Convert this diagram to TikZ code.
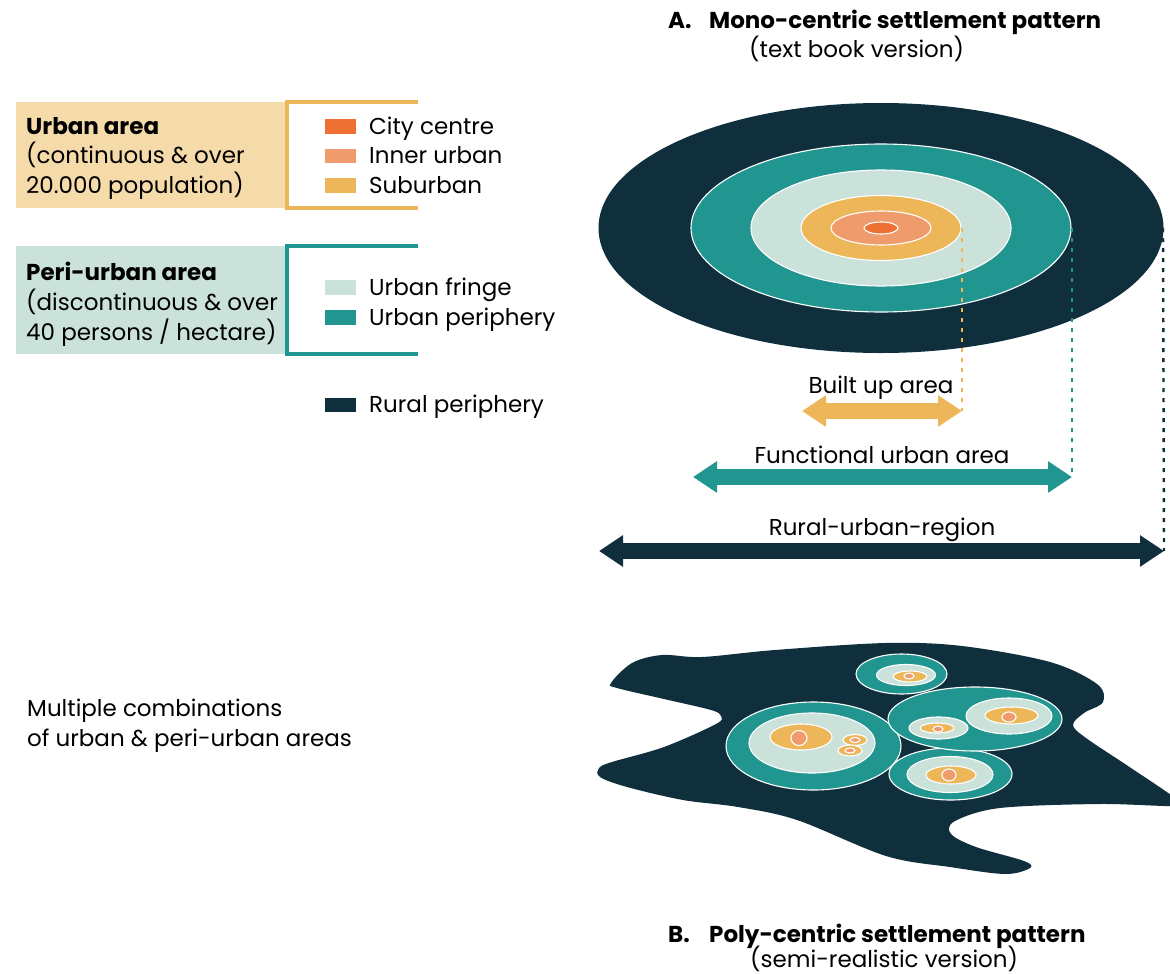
\documentclass[tikz,border=0pt]{standalone}
\usepackage{fontspec}
\setmainfont{Poppins}
\usetikzlibrary{arrows.meta}

% palette
\definecolor{ruraldark}{HTML}{0F2F3C}
\definecolor{periteal}{HTML}{21958F}
\definecolor{fringe}{HTML}{CAE2DA}
\definecolor{suburb}{HTML}{EDB658}
\definecolor{innerurb}{HTML}{F09B6B}
\definecolor{citycol}{HTML}{EE7032}
\definecolor{urbanbg}{HTML}{F5DAAA}
\definecolor{peribg}{HTML}{CAE2DA}

\begin{document}
\begin{tikzpicture}[x=1bp, y=-1bp,
  font=\fontsize{23bp}{27bp}\selectfont,
  txt/.style={anchor=base west, inner sep=0pt, text=black},
  ctxt/.style={anchor=base, inner sep=0pt, text=black},
  boldtxt/.style={txt, font=\fontsize{23bp}{27bp}\selectfont\bfseries},
  swatch/.style={minimum width=32bp, minimum height=15.5bp, inner sep=0pt, draw=white, line width=0.6bp},
  areabox/.style={anchor=north west, minimum width=269bp, minimum height=106bp, inner sep=0pt},
  bracket/.style={line width=4bp},
  ring/.style={draw=white, line width=1.1bp},
  dimarrow/.style={line width=16bp,
    {Triangle[length=24bp,width=30bp]}-{Triangle[length=24bp,width=30bp]}},
  guide/.style={line width=2.4bp, dash pattern=on 4bp off 6bp},
]
\useasboundingbox (0,0) rectangle (1170,974);

% ---------------- titles ----------------
\node[boldtxt] (tA-tag) at (668,28) {A.};
\node[boldtxt] (tA) at (709,28) {Mono-centric settlement pattern};
\node[txt] (tA-sub) at (749,57) {(text book version)};

\node[boldtxt] (tB-tag) at (668,942) {B.};
\node[boldtxt] (tB) at (709,942) {Poly-centric settlement pattern};
\node[txt] (tB-sub) at (750,967) {(semi-realistic version)};

% ---------------- legend: urban area ----------------
\node[areabox, fill=urbanbg] (urbanbox) at (16,102) {};
\draw[bracket, suburb] (418,102) -- (287,102) -- (287,208) -- (418,208);
\node[boldtxt] (u1) at (26,134) {Urban area};
\node[txt] (u2) at (26,163.5) {(continuous \& over};
\node[txt] (u3) at (26,193) {20.000 population)};

\node[swatch, fill=citycol] (sw-city) at (340,126.5) {};
\node[swatch, fill=innerurb] (sw-inner) at (340,156) {};
\node[swatch, fill=suburb] (sw-sub) at (340,185.5) {};
\node[txt] (l-city) at (369,134) {City centre};
\node[txt] (l-inner) at (369,163.5) {Inner urban};
\node[txt] (l-sub) at (369,193) {Suburban};

% ---------------- legend: peri-urban area ----------------
\node[areabox, fill=peribg, minimum height=108bp] (peribox) at (16,246) {};
\draw[bracket, periteal] (418,246) -- (287,246) -- (287,354) -- (418,354);
\node[boldtxt] (p1) at (26,280) {Peri-urban area};
\node[txt] (p2) at (26,310) {(discontinuous \& over};
\node[txt] (p3) at (26,340) {40 persons / hectare)};

\node[swatch, fill=fringe] (sw-fringe) at (340,287.5) {};
\node[swatch, fill=periteal] (sw-peri) at (340,317.5) {};
\node[txt] (l-fringe) at (369,295) {Urban fringe};
\node[txt] (l-peri) at (369,325) {Urban periphery};

\node[swatch, fill=ruraldark] (sw-rural) at (340,405) {};
\node[txt] (l-rural) at (369,412.5) {Rural periphery};

% ---------------- mono-centric rings ----------------
\fill[ruraldark] (881,228) ellipse [x radius=282.5bp, y radius=125bp];
\filldraw[ring, fill=periteal] (881,228) ellipse [x radius=190bp, y radius=84bp];
\filldraw[ring, fill=fringe] (881,228) ellipse [x radius=130bp, y radius=58bp];
\filldraw[ring, fill=suburb] (881,228) ellipse [x radius=80bp, y radius=32.5bp];
\filldraw[ring, fill=innerurb] (881,228) ellipse [x radius=50bp, y radius=17bp];
\filldraw[ring, fill=citycol] (881,228) ellipse [x radius=17bp, y radius=6bp];

% edges of the zones
\coordinate (edge-built) at (962,228);
\coordinate (edge-func) at (1072,228);
\coordinate (edge-rural) at (1163,228);

% ---------------- extent arrows ----------------
\coordinate (bu-l) at (802,411);
\coordinate (bu-r) at (962,411);
\coordinate (fu-l) at (693,477);
\coordinate (fu-r) at (1072,477);
\coordinate (ru-l) at (599,551);
\coordinate (ru-r) at (1164,551);

\draw[guide, suburb] (edge-built) -- (bu-r);
\draw[guide, periteal] (edge-func) -- (fu-r);
\draw[guide, ruraldark] (edge-rural) -- (ru-r);

\draw[dimarrow, suburb] (bu-l) -- (bu-r);
\draw[dimarrow, periteal] (fu-l) -- (fu-r);
\draw[dimarrow, ruraldark] (ru-l) -- (ru-r);

\node[ctxt] (lab-bu) at (881,393) {Built up area};
\node[ctxt] (lab-fu) at (882,463) {Functional urban area};
\node[ctxt] (lab-ru) at (882,535) {Rural-urban-region};

% ---------------- poly-centric region ----------------
\node[txt] (m1) at (27,716) {Multiple combinations};
\node[txt] (m2) at (27,746) {of urban \& peri-urban areas};

\fill[ruraldark] plot[smooth cycle, tension=0.55] coordinates {
  (611,683) (632,663) (662,655) (702,657) (775,650) (886,643) (962,646)
  (1050,662) (1097,684) (1103,702) (1084,713) (1073,725) (1086,738)
  (1128,766) (1175,798) (1178,806) (1100,804) (1000,808) (955,821)
  (951,834) (976,847) (1024,861) (1030,868) (1005,874) (950,867)
  (886,856) (797,820) (738,807) (683,800) (627,787) (600,777)
  (599,768) (612,762) (664,747) (716,724) (721,716) (711,710)
  (664,699) (617,688)};

% left town cluster
\filldraw[ring, fill=periteal] (813.5,746) ellipse [x radius=87.5bp, y radius=44bp];
\filldraw[ring, fill=fringe] (812,743) ellipse [x radius=63bp, y radius=30bp];
\filldraw[ring, fill=suburb] (801,737) ellipse [x radius=31bp, y radius=13bp];
\filldraw[ring, fill=innerurb] (799,738) ellipse [x radius=8bp, y radius=7.5bp];
\filldraw[ring, fill=suburb] (855,740) ellipse [x radius=12bp, y radius=5.5bp];
\filldraw[ring, fill=innerurb] (855,740) ellipse [x radius=5bp, y radius=2.5bp];
\filldraw[ring, fill=suburb] (850,750.5) ellipse [x radius=12bp, y radius=5.5bp];
\filldraw[ring, fill=innerurb] (850,750.5) ellipse [x radius=5bp, y radius=2.5bp];

% bottom town
\filldraw[ring, fill=periteal] (950.5,774) ellipse [x radius=61.5bp, y radius=26bp];
\filldraw[ring, fill=fringe] (950,774.5) ellipse [x radius=43bp, y radius=18bp];
\filldraw[ring, fill=suburb] (951,775) ellipse [x radius=25bp, y radius=9bp];
\filldraw[ring, fill=innerurb] (949,775) ellipse [x radius=7bp, y radius=6bp];

% right twin towns
\filldraw[ring, fill=periteal] (975,719) ellipse [x radius=87bp, y radius=32bp];
\filldraw[ring, fill=fringe] (1009,716) ellipse [x radius=43bp, y radius=18bp];
\filldraw[ring, fill=suburb] (1011.5,715.5) ellipse [x radius=26.5bp, y radius=8.5bp];
\filldraw[ring, fill=innerurb] (1009,717) ellipse [x radius=7bp, y radius=5bp];
\filldraw[ring, fill=fringe] (938.5,728) ellipse [x radius=29.5bp, y radius=11bp];
\filldraw[ring, fill=suburb] (937,728) ellipse [x radius=17bp, y radius=5bp];
\filldraw[ring, fill=innerurb] (938,729) ellipse [x radius=5bp, y radius=3bp];

% top town
\filldraw[ring, fill=periteal] (901.5,674) ellipse [x radius=45.5bp, y radius=20bp];
\filldraw[ring, fill=fringe] (906,675) ellipse [x radius=29.5bp, y radius=10.5bp];
\filldraw[ring, fill=suburb] (910,676.5) ellipse [x radius=17bp, y radius=5.5bp];
\filldraw[ring, fill=innerurb] (909,676) ellipse [x radius=5bp, y radius=3bp];

\end{tikzpicture}
\end{document}
